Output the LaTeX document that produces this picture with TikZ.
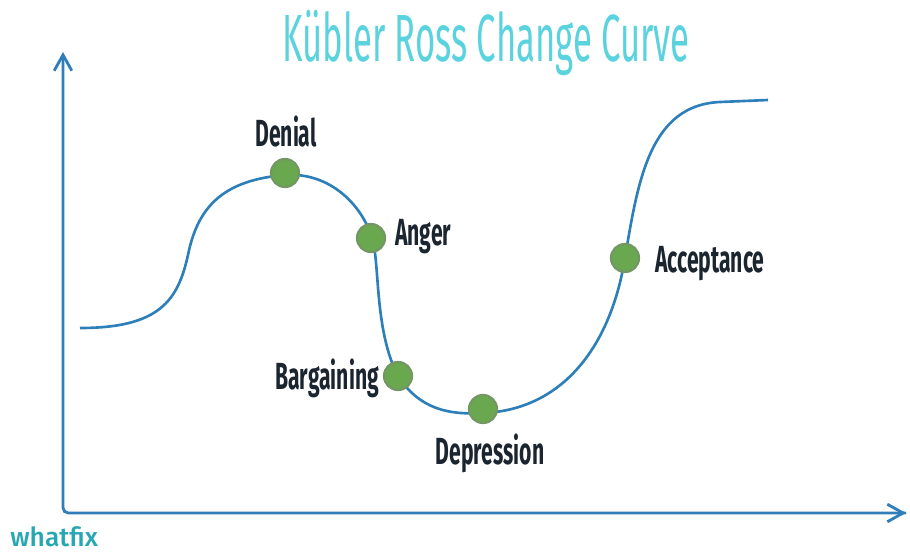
\documentclass[tikz,border=0pt]{standalone}
\usepackage{fontspec}
\usetikzlibrary{arrows.meta}
\setmainfont{Fira Sans}
\newfontfamily\condbold[FakeStretch=0.56]{Fira Sans Bold}
\newfontfamily\condtitle[FakeStretch=0.52]{Fira Sans}
\newfontfamily\logofont{Fira Sans Medium}
\definecolor{axisblue}{HTML}{2F7DB9}
\definecolor{curveblue}{HTML}{2C7FB8}
\definecolor{dotgreen}{HTML}{6AA84F}
\definecolor{titlecyan}{HTML}{5BD3DE}
\definecolor{labeldark}{HTML}{1B2530}
\definecolor{logoteal}{HTML}{27A7B3}
\tikzset{
  axisline/.style={draw=axisblue, line width=1.6pt, rounded corners=3pt},
  curveline/.style={draw=curveblue, line width=1.5pt},
  stagedot/.style={circle, fill=dotgreen, draw=dotgreen!55!gray, line width=1.2pt, minimum size=16pt, inner sep=0pt},
  stagelabel/.style={font=\condbold\fontsize{21.5}{24}\selectfont, text=labeldark, inner sep=1pt},
  axistip/.style={-{Straight Barb[length=9pt, width=10pt]}},
}
\begin{document}
\begin{tikzpicture}[x=0.02cm, y=-0.02cm]
\useasboundingbox (0,0) rectangle (910,554);
% title
\node (title) at (486,43) {\condtitle\fontsize{38}{40}\selectfont\color{titlecyan}Kübler Ross Change Curve};
% axes
\coordinate (ytop) at (63,52);
\coordinate (origin) at (63,513);
\coordinate (xend) at (906,513);
\draw[axisline, axistip] (xend) -- (origin) -- (ytop);
\draw[draw=axisblue, line width=1.6pt, axistip] (100,513) -- (xend);
% change curve
\draw[curveline] (80,328)
  .. controls (160,328) and (178,300) .. (188,255)
  .. controls (198,205) and (225,180) .. (285,175)
  .. controls (330,172) and (362,205) .. (372,238)
  .. controls (380,262) and (374,330) .. (398,376)
  .. controls (420,410) and (450,415) .. (483,413)
  .. controls (560,410) and (610,350) .. (625,258)
  .. controls (638,180) and (650,105) .. (720,102)
  -- (768,100);
% stages
\node[stagedot] (denial) at (285,173) {};
\node[stagedot] (anger) at (371,238) {};
\node[stagedot] (bargaining) at (398,376) {};
\node[stagedot] (depression) at (483,409) {};
\node[stagedot] (acceptance) at (625,258) {};
\node[stagelabel] (ldenial) at (286,132) {Denial};
\node[stagelabel, anchor=west] (langer) at (393,237) {Anger};
\node[stagelabel, anchor=east] (lbargaining) at (381,378) {Bargaining};
\node[stagelabel] (ldepression) at (490,453) {Depression};
\node[stagelabel, anchor=west] (lacceptance) at (653,264) {Acceptance};
% logo
\node[anchor=west, inner sep=0pt] (logo) at (10,537) {\logofont\fontsize{15}{17}\selectfont\color{logoteal}whatfix};
\end{tikzpicture}
\end{document}
